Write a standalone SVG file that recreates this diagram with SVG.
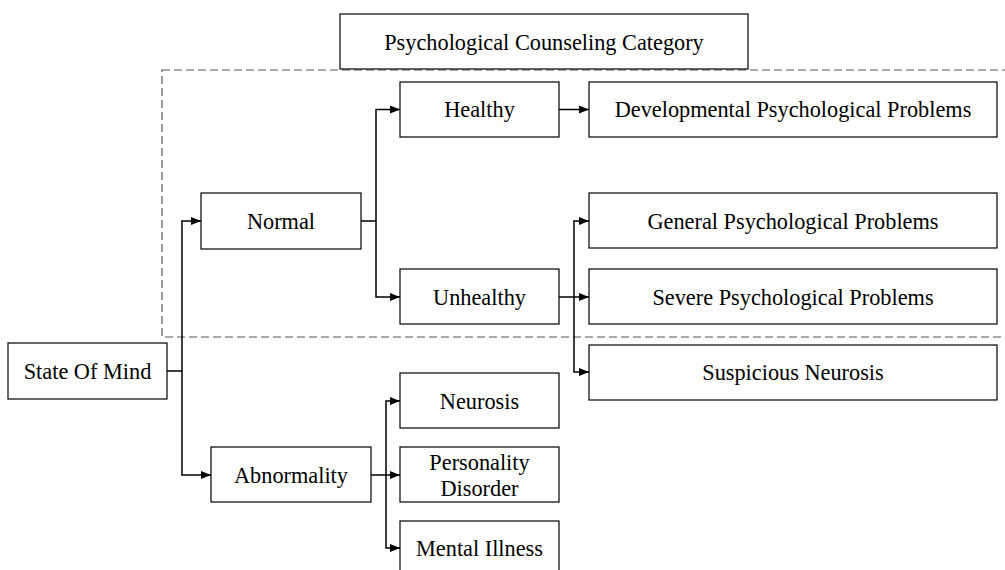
<svg xmlns="http://www.w3.org/2000/svg" width="1005" height="570" viewBox="0 0 1005 570">
  <defs>
    <marker id="arrow" viewBox="0 0 10 8" refX="10" refY="4" markerWidth="10" markerHeight="8" markerUnits="userSpaceOnUse" orient="auto">
      <path d="M0,0 L10,4 L0,8 Z" fill="#000"/>
    </marker>
    <style>
      .box { fill: #fff; stroke: #000; stroke-width: 1.2; }
      .lbl { font-family: "Liberation Serif", "Times New Roman", serif; font-size: 22.3px; fill: #000; text-anchor: middle; dominant-baseline: central; }
      .wire { fill: none; stroke: #000; stroke-width: 1.5; }
      .arr { marker-end: url(#arrow); }
      .region { fill: none; stroke: #555; stroke-width: 1.2; stroke-dasharray: 8 4; }
    </style>
  </defs>
  <rect width="1005" height="570" fill="#fff"/>

  <!-- counseling scope (dashed) -->
  <rect class="region" x="162" y="70" width="850" height="267"/>

  <g id="category">
    <rect class="box" x="340" y="14" width="408" height="55"/>
    <text class="lbl" x="544" y="42">Psychological Counseling Category</text>
  </g>

  <g id="connectors">
    <!-- State Of Mind -> Normal / Abnormality -->
    <path class="wire" d="M167,371 H182"/>
    <path class="wire arr" d="M182,371 V221 H201"/>
    <path class="wire arr" d="M182,371 V475 H211"/>
    <!-- Normal -> Healthy / Unhealthy -->
    <path class="wire" d="M361,221 H376"/>
    <path class="wire arr" d="M376,221 V109.5 H400"/>
    <path class="wire arr" d="M376,221 V297 H400"/>
    <!-- Healthy -> Developmental -->
    <path class="wire arr" d="M559,109.5 H589"/>
    <!-- Unhealthy -> General / Severe / Suspicious -->
    <path class="wire" d="M559,297 H574"/>
    <path class="wire arr" d="M574,297 V221 H589"/>
    <path class="wire arr" d="M574,297 H589"/>
    <path class="wire arr" d="M574,297 V372 H589"/>
    <!-- Abnormality -> Neurosis / Personality Disorder / Mental Illness -->
    <path class="wire" d="M371,475 H386"/>
    <path class="wire arr" d="M386,475 V401 H400"/>
    <path class="wire arr" d="M386,475 H400"/>
    <path class="wire arr" d="M386,475 V548 H400"/>
  </g>

  <g id="state-of-mind">
    <rect class="box" x="8" y="343" width="159" height="56"/>
    <text class="lbl" x="87.5" y="371">State Of Mind</text>
  </g>
  <g id="normal">
    <rect class="box" x="201" y="193" width="160" height="56"/>
    <text class="lbl" x="281" y="221">Normal</text>
  </g>
  <g id="abnormality">
    <rect class="box" x="211" y="447" width="160" height="55"/>
    <text class="lbl" x="291" y="475">Abnormality</text>
  </g>
  <g id="healthy">
    <rect class="box" x="400" y="82" width="159" height="55"/>
    <text class="lbl" x="479.5" y="109.5">Healthy</text>
  </g>
  <g id="unhealthy">
    <rect class="box" x="400" y="269" width="159" height="55"/>
    <text class="lbl" x="479.5" y="297">Unhealthy</text>
  </g>
  <g id="developmental">
    <rect class="box" x="589" y="82" width="408" height="55"/>
    <text class="lbl" x="793" y="109.5">Developmental Psychological Problems</text>
  </g>
  <g id="general">
    <rect class="box" x="589" y="193" width="408" height="55"/>
    <text class="lbl" x="793" y="221">General Psychological Problems</text>
  </g>
  <g id="severe">
    <rect class="box" x="589" y="269" width="408" height="55"/>
    <text class="lbl" x="793" y="297">Severe Psychological Problems</text>
  </g>
  <g id="suspicious">
    <rect class="box" x="589" y="345" width="408" height="55"/>
    <text class="lbl" x="793" y="372">Suspicious Neurosis</text>
  </g>
  <g id="neurosis">
    <rect class="box" x="400" y="373" width="159" height="55"/>
    <text class="lbl" x="479.5" y="401">Neurosis</text>
  </g>
  <g id="personality-disorder">
    <rect class="box" x="400" y="447" width="159" height="55"/>
    <text class="lbl" x="479.5" y="462">Personality</text>
    <text class="lbl" x="479.5" y="488">Disorder</text>
  </g>
  <g id="mental-illness">
    <rect class="box" x="400" y="521" width="159" height="56"/>
    <text class="lbl" x="479.5" y="548">Mental Illness</text>
  </g>
</svg>
